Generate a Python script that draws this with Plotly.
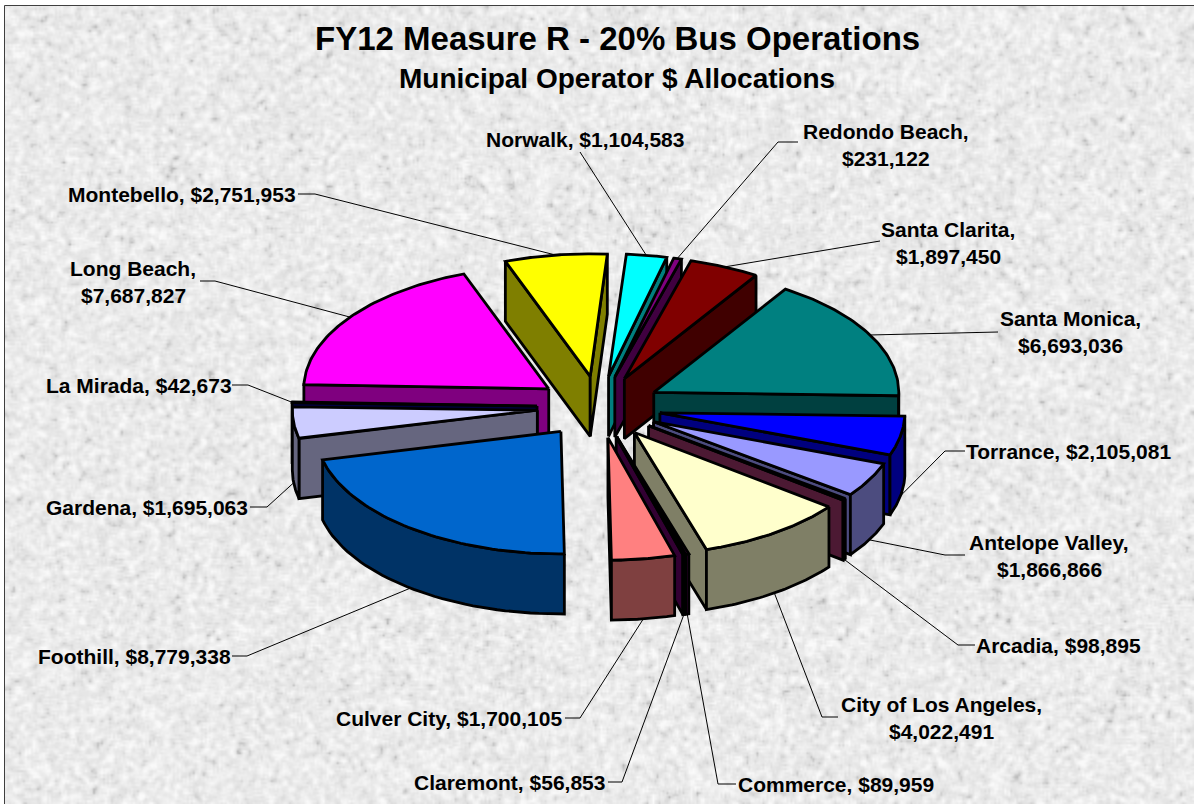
import base64
import struct
import zlib

import numpy as np
import plotly.graph_objects as go

# ---- data ----
names = ["Norwalk", "Redondo Beach", "Santa Clarita", "Santa Monica", "Torrance",
         "Antelope Valley", "Arcadia", "City of Los Angeles", "Commerce", "Claremont",
         "Culver City", "Foothill", "Gardena", "La Mirada", "Long Beach", "Montebello"]
values = [1104583, 231122, 1897450, 6693036, 2105081,
          1866866, 98895, 4022491, 89959, 56853,
          1700105, 8779338, 1695063, 42673, 7687827, 2751953]
colors = ["#00ffff", "#800080", "#800000", "#008080", "#0000ff",
          "#9999ff", "#993366", "#ffffcc", "#660066", "#660066",
          "#ff8080", "#0066cc", "#ccccff", "#000080", "#ff00ff", "#ffff00"]
label_breaks = {"Redondo Beach", "Santa Clarita", "Santa Monica", "Antelope Valley",
                "City of Los Angeles", "Long Beach"}

# ---- layout of the labels: text centre and leader elbow ----
label_pos = {
    "Norwalk": (585, 139, [(580, 152)]),
    "Redondo Beach": (886, 131, [(798, 142), (778, 142)]),
    "Santa Clarita": (948, 229, [(880, 241)]),
    "Santa Monica": (1070, 318, [(998, 332)]),
    "Torrance": (1068, 451, [(965, 451), (945, 451)]),
    "Antelope Valley": (1049, 542, [(965, 555), (945, 555)]),
    "Arcadia": (1058, 645, [(975, 645), (958, 645)]),
    "City of Los Angeles": (941, 704, [(838, 717), (822, 717)]),
    "Commerce": (836, 784, [(736, 784), (718, 784)]),
    "Claremont": (509, 782, [(608, 782), (622, 782)]),
    "Culver City": (449, 718, [(565, 718), (580, 718)]),
    "Foothill": (134, 656, [(232, 656), (247, 656)]),
    "Gardena": (147, 507, [(250, 507), (267, 507)]),
    "La Mirada": (139, 385, [(232, 385), (248, 385)]),
    "Long Beach": (133, 268, [(200, 281), (215, 281)]),
    "Montebello": (182, 194, [(298, 194), (315, 194)]),
}

CX, CY, RX, TILT, DEPTH, EXPLODE, START = 599, 407, 245, 0.5, 60, 62, 4.0
FONT = "Liberation Sans, Arial, sans-serif"


def darker(hex_color):
    r, g, b = (int(hex_color[i:i + 2], 16) for i in (1, 3, 5))
    return f"rgb({r // 2},{g // 2},{b // 2})"


def rim(ax, ay, deg):
    t = np.radians(deg)
    return ax + RX * np.sin(t), ay - RX * TILT * np.cos(t)


def poly(xs, ys, fill):
    return go.Scatter(x=list(xs), y=list(ys), mode="lines", fill="toself", fillcolor=fill,
                      line=dict(color="black", width=2.8), hoverinfo="skip", showlegend=False)


def paper_texture(width, height):
    """Grainy grey backdrop: a blurred hash pattern, returned as a PNG data URI."""
    yy, xx = np.mgrid[0:height, 0:width].astype(float)
    grain = np.sin(xx * 12.9898 + yy * 78.233) * 43758.5453
    grain -= np.floor(grain)
    soft = sum(np.roll(np.roll(grain, dx, 1), dy, 0)
               for dx in (-1, 0, 1) for dy in (-1, 0, 1)) / 9
    s = (soft - soft.mean()) / soft.std()
    g = 235 - 6.5 * s - 7 * np.clip(s - 1.2, 0, None) ** 2
    g = np.clip(g, 185, 250).astype(np.uint8)
    raw = b"".join(b"\x00" + row.tobytes() for row in g)

    def chunk(tag, body):
        return struct.pack(">I", len(body)) + tag + body + struct.pack(
            ">I", zlib.crc32(tag + body) & 0xffffffff)

    png = (b"\x89PNG\r\n\x1a\n" + chunk(b"IHDR", struct.pack(">IIBBBBB", width, height, 8, 0, 0, 0, 0))
           + chunk(b"IDAT", zlib.compress(raw, 9)) + chunk(b"IEND", b""))
    return "data:image/png;base64," + base64.b64encode(png).decode()


fractions = np.array(values) / sum(values) * 360
ends = START + np.cumsum(fractions)
starts = ends - fractions
mids = (starts + ends) / 2
apex_x = CX + EXPLODE * np.sin(np.radians(mids))
apex_y = CY - EXPLODE * TILT * np.cos(np.radians(mids))

fig = go.Figure()

# leader lines sit beneath the wedges
for i, name in enumerate(names):
    mx, my = rim(apex_x[i], apex_y[i], mids[i])
    if np.cos(np.radians(mids[i])) < 0:
        my += DEPTH
    elbow = label_pos[name][2]
    fig.add_trace(go.Scatter(x=[p[0] for p in elbow] + [mx], y=[p[1] for p in elbow] + [my],
                             mode="lines", line=dict(color="black", width=1),
                             hoverinfo="skip", showlegend=False))

# wedges painted back to front
for i in sorted(range(len(names)), key=lambda k: np.cos(np.radians(mids[k])), reverse=True):
    ax, ay, a0, a1, top = apex_x[i], apex_y[i], starts[i], ends[i], colors[i]
    side = darker(top)
    if np.sin(np.radians(a0)) < 0:
        ex, ey = rim(ax, ay, a0)
        fig.add_trace(poly([ax, ex, ex, ax, ax], [ay, ey, ey + DEPTH, ay + DEPTH, ay], side))
    if np.sin(np.radians(a1)) > 0:
        ex, ey = rim(ax, ay, a1)
        fig.add_trace(poly([ax, ex, ex, ax, ax], [ay, ey, ey + DEPTH, ay + DEPTH, ay], side))
    w0, w1 = max(a0, 90), min(a1, 270)
    if w1 > w0:
        tw = np.linspace(w0, w1, 40)
        wx, wy = rim(ax, ay, tw)
        fig.add_trace(poly(np.r_[wx, wx[::-1], wx[0]], np.r_[wy, wy[::-1] + DEPTH, wy[0]], side))
    t = np.linspace(a0, a1, 60)
    tx, ty = rim(ax, ay, t)
    fig.add_trace(poly(np.r_[ax, tx, ax], np.r_[ay, ty, ay], top))

annotations = []
for name, value in zip(names, values):
    x, y, _ = label_pos[name]
    amount = f"${value:,}"
    lines = [f"{name},", amount] if name in label_breaks else [f"{name}, {amount}"]
    for k, line in enumerate(lines):
        annotations.append(dict(x=x, y=y + 27 * k, text=f"<b>{line}</b>", showarrow=False,
                                xanchor="center", yanchor="middle",
                                font=dict(family=FONT, size=21, color="black")))
annotations.append(dict(x=617, y=38, text="<b>FY12 Measure R - 20% Bus Operations</b>",
                        showarrow=False, xanchor="center", yanchor="middle",
                        font=dict(family=FONT, size=33, color="black")))
annotations.append(dict(x=617, y=78, text="<b>Municipal Operator $ Allocations</b>",
                        showarrow=False, xanchor="center", yanchor="middle",
                        font=dict(family=FONT, size=28, color="black")))

fig.update_layout(
    width=1194, height=804, margin=dict(l=0, r=0, t=0, b=0),
    paper_bgcolor="white", plot_bgcolor="white", showlegend=False,
    xaxis=dict(range=[0, 1194], visible=False, fixedrange=True),
    yaxis=dict(range=[804, 0], visible=False, fixedrange=True),
    annotations=annotations,
    images=[dict(source=paper_texture(595, 400), xref="x", yref="y", x=5, y=6,
                 sizex=1189, sizey=798, xanchor="left", yanchor="top",
                 sizing="stretch", layer="below")],
    shapes=[dict(type="rect", layer="below", x0=5, y0=6, x1=1300, y1=900,
                 fillcolor="rgba(0,0,0,0)", line=dict(color="black", width=1.5))],
)
fig.write_html("out.html", config={"displayModeBar": False},
               post_script="document.body.style.margin='0';document.body.style.overflow='hidden';")
